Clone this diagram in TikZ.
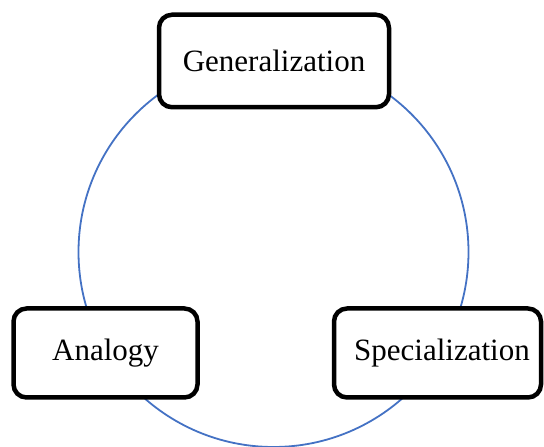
\documentclass[tikz,border=0pt]{standalone}
\usepackage{fontspec}
\setmainfont{Liberation Serif}
\definecolor{ringblue}{HTML}{4472C4}
\begin{document}
\begin{tikzpicture}[x=1pt,y=1pt,
  stage/.style={draw=black, line width=4.5pt, rounded corners=13pt, fill=white,
    inner sep=0pt, font=\fontsize{31}{36}\selectfont}]
\useasboundingbox (0,0) rectangle (544,447);
% cycle ring behind the boxes
\node[draw=ringblue, line width=1.8pt, circle, minimum size=390pt, inner sep=0pt] (ring) at (273.5,195) {};
% the three stages
\node[stage, minimum width=230pt, minimum height=92.5pt] (gen) at (274,386) {Generalization};
\node[stage, minimum width=184pt, minimum height=89pt] (ana) at (105.5,94) {Analogy};
\node[stage, minimum width=207pt, minimum height=89pt] (spe) at (437.5,94) {\hspace*{9pt}Specialization};
\end{tikzpicture}
\end{document}
